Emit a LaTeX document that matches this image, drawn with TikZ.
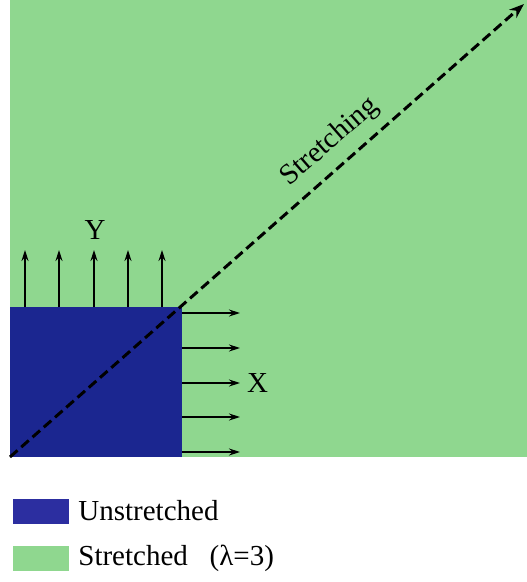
\documentclass[tikz,border=0pt]{standalone}
\usepackage{fontspec}
\setmainfont{Liberation Serif}
\usetikzlibrary{arrows.meta,positioning}
\definecolor{cGreen}{HTML}{8FD78F}
\definecolor{cBlue}{HTML}{1B2690}
\definecolor{cKey}{HTML}{2C2EA0}
\tikzset{
  lbl/.style={font=\fontsize{29}{34}\selectfont,inner sep=0pt},
  pull/.style={-{Stealth[length=11pt,width=7pt]},line width=1.4pt,black},
  diag/.style={-{Stealth[length=15pt,width=11pt]},line width=3pt,black,dash pattern=on 10pt off 5pt},
  keybox/.style={rectangle,inner sep=0pt,minimum width=56pt,minimum height=25pt},
}

\begin{document}
\begin{tikzpicture}[x=1pt,y=-1pt]
  \useasboundingbox (0,0) rectangle (527,582);
  % stretched and unstretched areas
  \fill[cGreen] (10,0) rectangle (527,457);
  \fill[cBlue] (10,307) rectangle (182,457);
  \coordinate (o) at (10,457);
  \coordinate (c) at (182,307);
  \coordinate (tip) at (524,4);
  \draw[diag] (o) -- (tip);
  \node[lbl,rotate=41] (str) at (330,142) {Stretching};
  % pulling in Y
  \foreach \x [count=\i] in {25,59,94,128,162} {
    \coordinate (yb\i) at (\x,307);
    \coordinate (yt\i) at (\x,250);
    \draw[pull] (yb\i) -- (yt\i);
  }
  \node[lbl] (ylab) at (95,230) {Y};
  % pulling in X
  \foreach \y [count=\i] in {313,348,383,417,452} {
    \coordinate (xb\i) at (182,\y);
    \coordinate (xt\i) at (240,\y);
    \draw[pull] (xb\i) -- (xt\i);
  }
  \node[lbl,anchor=west] (xlab) at (247,383) {X};
  % legend
  \node[keybox,fill=cKey] (k1) at (41,511) {};
  \node[lbl,right=9pt of k1] (t1) {Unstretched};
  \node[keybox,fill=cGreen] (k2) at (41,558) {};
  \node[lbl,right=9pt of k2] (t2) {Stretched\hspace{0.75em}(λ=3)};
\end{tikzpicture}
\end{document}
